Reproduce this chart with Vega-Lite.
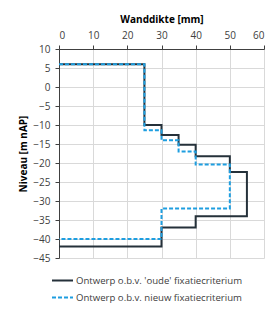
{
  "$schema": "https://vega.github.io/schema/vega-lite/v6.json",
  "width": 205,
  "height": 209,
  "autosize": {"type": "none"},
  "padding": {"left": 59, "top": 49, "right": 16, "bottom": 53},
  "background": "white",
  "config": {
    "view": {"stroke": null},
    "font": "Open Sans",
    "axis": {
      "gridColor": "#d9d9d9",
      "gridWidth": 1,
      "domainColor": "#404040",
      "domainWidth": 1,
      "tickColor": "#404040",
      "tickSize": 4,
      "labelColor": "#404040",
      "labelFontSize": 10,
      "labelFont": "Open Sans",
      "labelPadding": 5,
      "titleFont": "Open Sans",
      "titleFontSize": 10,
      "titleFontWeight": "bold",
      "titleColor": "#000000"
    },
    "legend": {
      "labelFont": "Open Sans",
      "labelFontSize": 9.6,
      "labelColor": "#404040"
    }
  },
  "data": {
    "values": [
      {"serie": "Ontwerp o.b.v. 'oude' fixatiecriterium", "i": 1, "dikte": 0, "niveau": 6},
      {"serie": "Ontwerp o.b.v. 'oude' fixatiecriterium", "i": 2, "dikte": 25, "niveau": 6},
      {"serie": "Ontwerp o.b.v. 'oude' fixatiecriterium", "i": 3, "dikte": 25, "niveau": -10},
      {"serie": "Ontwerp o.b.v. 'oude' fixatiecriterium", "i": 4, "dikte": 30, "niveau": -10},
      {"serie": "Ontwerp o.b.v. 'oude' fixatiecriterium", "i": 5, "dikte": 30, "niveau": -12.6},
      {"serie": "Ontwerp o.b.v. 'oude' fixatiecriterium", "i": 6, "dikte": 35, "niveau": -12.6},
      {"serie": "Ontwerp o.b.v. 'oude' fixatiecriterium", "i": 7, "dikte": 35, "niveau": -15.2},
      {"serie": "Ontwerp o.b.v. 'oude' fixatiecriterium", "i": 8, "dikte": 40, "niveau": -15.2},
      {"serie": "Ontwerp o.b.v. 'oude' fixatiecriterium", "i": 9, "dikte": 40, "niveau": -18.2},
      {"serie": "Ontwerp o.b.v. 'oude' fixatiecriterium", "i": 10, "dikte": 50, "niveau": -18.2},
      {"serie": "Ontwerp o.b.v. 'oude' fixatiecriterium", "i": 11, "dikte": 50, "niveau": -22.4},
      {"serie": "Ontwerp o.b.v. 'oude' fixatiecriterium", "i": 12, "dikte": 55, "niveau": -22.4},
      {"serie": "Ontwerp o.b.v. 'oude' fixatiecriterium", "i": 13, "dikte": 55, "niveau": -34},
      {"serie": "Ontwerp o.b.v. 'oude' fixatiecriterium", "i": 14, "dikte": 40, "niveau": -34},
      {"serie": "Ontwerp o.b.v. 'oude' fixatiecriterium", "i": 15, "dikte": 40, "niveau": -37},
      {"serie": "Ontwerp o.b.v. 'oude' fixatiecriterium", "i": 16, "dikte": 30, "niveau": -37},
      {"serie": "Ontwerp o.b.v. 'oude' fixatiecriterium", "i": 17, "dikte": 30, "niveau": -42},
      {"serie": "Ontwerp o.b.v. 'oude' fixatiecriterium", "i": 18, "dikte": 0, "niveau": -42},
      {"serie": "Ontwerp o.b.v. nieuw fixatiecriterium", "i": 1, "dikte": 0, "niveau": 6},
      {"serie": "Ontwerp o.b.v. nieuw fixatiecriterium", "i": 2, "dikte": 25, "niveau": 6},
      {"serie": "Ontwerp o.b.v. nieuw fixatiecriterium", "i": 3, "dikte": 25, "niveau": -11.4},
      {"serie": "Ontwerp o.b.v. nieuw fixatiecriterium", "i": 4, "dikte": 30, "niveau": -11.4},
      {"serie": "Ontwerp o.b.v. nieuw fixatiecriterium", "i": 5, "dikte": 30, "niveau": -14},
      {"serie": "Ontwerp o.b.v. nieuw fixatiecriterium", "i": 6, "dikte": 35, "niveau": -14},
      {"serie": "Ontwerp o.b.v. nieuw fixatiecriterium", "i": 7, "dikte": 35, "niveau": -17},
      {"serie": "Ontwerp o.b.v. nieuw fixatiecriterium", "i": 8, "dikte": 40, "niveau": -17},
      {"serie": "Ontwerp o.b.v. nieuw fixatiecriterium", "i": 9, "dikte": 40, "niveau": -20.4},
      {"serie": "Ontwerp o.b.v. nieuw fixatiecriterium", "i": 10, "dikte": 50, "niveau": -20.4},
      {"serie": "Ontwerp o.b.v. nieuw fixatiecriterium", "i": 11, "dikte": 50, "niveau": -32},
      {"serie": "Ontwerp o.b.v. nieuw fixatiecriterium", "i": 12, "dikte": 30, "niveau": -32},
      {"serie": "Ontwerp o.b.v. nieuw fixatiecriterium", "i": 13, "dikte": 30, "niveau": -40},
      {"serie": "Ontwerp o.b.v. nieuw fixatiecriterium", "i": 14, "dikte": 0, "niveau": -40}
    ]
  },
  "mark": {"type": "line", "strokeWidth": 2},
  "encoding": {
    "x": {
      "field": "dikte",
      "type": "quantitative",
      "scale": {"domain": [0, 60], "nice": false, "zero": false},
      "axis": {"orient": "top", "title": "Wanddikte [mm]", "values": [0, 10, 20, 30, 40, 50, 60], "titlePadding": 6}
    },
    "y": {
      "field": "niveau",
      "type": "quantitative",
      "scale": {"domain": [-45, 10], "nice": false, "zero": false},
      "axis": {"title": "Niveau [m nAP]", "values": [10, 5, 0, -5, -10, -15, -20, -25, -30, -35, -40, -45], "titlePadding": 4}
    },
    "order": {"field": "i", "type": "quantitative"},
    "color": {
      "field": "serie",
      "type": "nominal",
      "scale": {
        "domain": ["Ontwerp o.b.v. 'oude' fixatiecriterium", "Ontwerp o.b.v. nieuw fixatiecriterium"],
        "range": ["#25313a", "#1e9ee0"]
      },
      "legend": {
        "title": null,
        "orient": "none",
        "legendX": -8,
        "legendY": 220,
        "direction": "vertical",
        "symbolSize": 441,
        "symbolStrokeWidth": 2,
        "rowPadding": -3,
        "labelOffset": 2,
        "labelLimit": 300
      }
    },
    "strokeDash": {
      "field": "serie",
      "type": "nominal",
      "scale": {
        "domain": ["Ontwerp o.b.v. 'oude' fixatiecriterium", "Ontwerp o.b.v. nieuw fixatiecriterium"],
        "range": [[1, 0], [4, 2]]
      },
      "legend": null
    }
  }
}
